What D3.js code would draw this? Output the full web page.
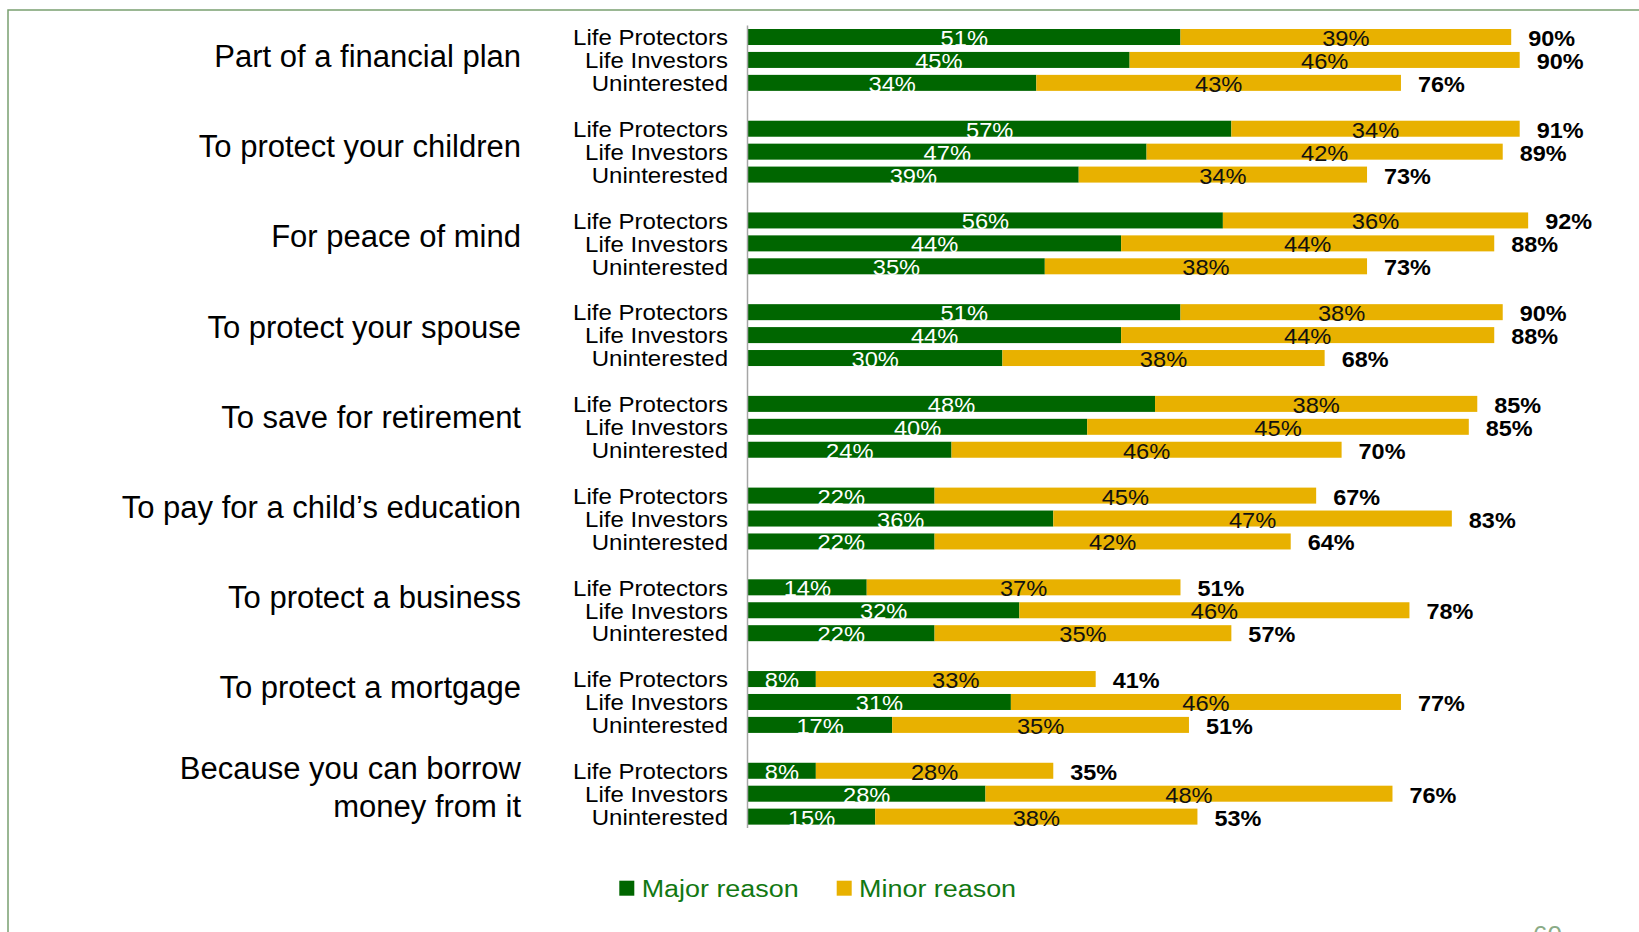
<!DOCTYPE html>
<html>
<head>
<meta charset="utf-8">
<script src="https://cdn.jsdelivr.net/npm/d3@7"></script>
<style>
  html, body { margin: 0; padding: 0; background: #fff; }
  svg { display: block; }
  text { font-family: "Liberation Sans", Arial, sans-serif; }
</style>
</head>
<body>
<script>
// ---------------- DATA ----------------
const categories = [
  "Part of a financial plan",
  "To protect your children",
  "For peace of mind",
  "To protect your spouse",
  "To save for retirement",
  "To pay for a child’s education",
  "To protect a business",
  "To protect a mortgage",
  "Because you can borrow\nmoney from it"
];
const series = ["Life Protectors", "Life Investors", "Uninterested"];
const legendKeys = ["Major reason", "Minor reason"];

// per category: [Life Protectors, Life Investors, Uninterested]
const majorReason = [
  [51, 45, 34],
  [57, 47, 39],
  [56, 44, 35],
  [51, 44, 30],
  [48, 40, 24],
  [22, 36, 22],
  [14, 32, 22],
  [8, 31, 17],
  [8, 28, 15]
];
const minorReason = [
  [39, 46, 43],
  [34, 42, 34],
  [36, 44, 38],
  [38, 44, 38],
  [38, 45, 46],
  [45, 47, 42],
  [37, 46, 35],
  [33, 46, 35],
  [28, 48, 38]
];
const totalLabels = [
  [90, 90, 76],
  [91, 89, 73],
  [92, 88, 73],
  [90, 88, 68],
  [85, 85, 70],
  [67, 83, 64],
  [51, 78, 57],
  [41, 77, 51],
  [35, 76, 53]
];
const pageNumber = "60";

// ---------------- LAYOUT ----------------
const W = 1639, H = 932;
const colors = { major: "#006600", minor: "#E8B100" };
const groupStep = 91.72, slotStep = 22.93, plotTop = 25.54, labelStep = 90.2;

const svg = d3.select("body").append("svg").attr("width", W).attr("height", H);

// slide frame
svg.append("rect")
  .attr("x", 8).attr("y", 10).attr("width", W + 50).attr("height", H + 50)
  .attr("fill", "none").attr("stroke", "#7aa070").attr("stroke-width", 1.5);

const yGroup = d3.scaleBand().domain(categories)
  .range([plotTop, plotTop + categories.length * groupStep]);
const yLabel = d3.scaleBand().domain(categories)
  .range([plotTop, plotTop + categories.length * labelStep]);
const ySeries = d3.scaleBand().domain(series)
  .range([0, series.length * slotStep])
  .paddingInner(0.302).paddingOuter(0.151);
const x = d3.scaleLinear().domain([0, 100]).range([748, 1596]);

// table for stacking
const rows = [];
categories.forEach((c, i) => {
  series.forEach((s, j) => {
    rows.push({ cat: c, ser: s, major: majorReason[i][j], minor: minorReason[i][j], total: totalLabels[i][j] });
  });
});
const stacked = d3.stack().keys(["major", "minor"])(rows);

const yBar = d => yGroup(d.cat) + ySeries(d.ser);
const bw = ySeries.bandwidth();

function stretchedText(sel, px, py, str, size, sx, opts) {
  return sel.append("text")
    .attr("transform", `translate(${px},${py}) scale(${sx},1)`)
    .attr("font-size", size)
    .attr("text-anchor", opts.anchor || "start")
    .attr("fill", opts.fill || "#000")
    .attr("font-weight", opts.weight || "normal")
    .text(str);
}

// bars
const gBars = svg.append("g");
stacked.forEach(layer => {
  gBars.selectAll(null).data(layer).enter().append("rect")
    .attr("x", d => x(d[0]))
    .attr("y", d => yBar(d.data))
    .attr("width", d => x(d[1]) - x(d[0]))
    .attr("height", bw)
    .attr("fill", colors[layer.key]);
});

// axis line
const axisBottom = yGroup(categories[categories.length - 1]) + ySeries.range()[1];
svg.append("line")
  .attr("x1", x(0) - 0.5).attr("x2", x(0) - 0.5)
  .attr("y1", plotTop).attr("y2", axisBottom)
  .attr("stroke", "#a6a6a6").attr("stroke-width", 1.5);

// segment value labels
const gLab = svg.append("g");
stacked.forEach(layer => {
  layer.forEach(d => {
    const cx = (x(d[0]) + x(d[1])) / 2;
    const cy = yBar(d.data) + bw / 2 + 9;
    stretchedText(gLab, cx, cy, (d[1] - d[0]) + "%", 21.5, 1.1,
      { anchor: "middle", fill: layer.key === "major" ? "#ffffff" : "#111111" });
  });
});

// total labels
rows.forEach(d => {
  stretchedText(gLab, x(d.major + d.minor) + 17, yBar(d) + bw / 2 + 9, d.total + "%", 21.5, 1.09,
    { anchor: "start", weight: "bold", fill: "#000" });
});

// series labels
rows.forEach(d => {
  stretchedText(gLab, 728, yBar(d) + bw / 2 + 8.3, d.ser, 21.5, 1.118, { anchor: "end", fill: "#000" });
});

// category labels
categories.forEach(c => {
  const center = yLabel(c) + ySeries(series[1]) + bw / 2;
  const lines = c.split("\n");
  const t = svg.append("text")
    .attr("x", 521)
    .attr("y", center + 7 - (lines.length - 1) * 9.2)
    .attr("font-size", 31)
    .attr("text-anchor", "end")
    .attr("fill", "#000");
  lines.forEach((ln, k) => {
    t.append("tspan").attr("x", 521).attr("dy", k === 0 ? 0 : 38).text(ln);
  });
});

// legend
const legendX = [619.3, 836.7];
legendKeys.forEach((k, i) => {
  svg.append("rect")
    .attr("x", legendX[i]).attr("y", 880.7).attr("width", 15).attr("height", 15)
    .attr("fill", i === 0 ? colors.major : colors.minor);
  stretchedText(svg, legendX[i] + 22.4, 896.7, k, 23, 1.17, { anchor: "start", fill: "#127812" });
});

// page number (cut by the slide edge, as in the original)
svg.append("text")
  .attr("x", 1533).attr("y", 944)
  .attr("font-size", 26).attr("fill", "#8aab86")
  .text(pageNumber);
</script>
</body>
</html>
